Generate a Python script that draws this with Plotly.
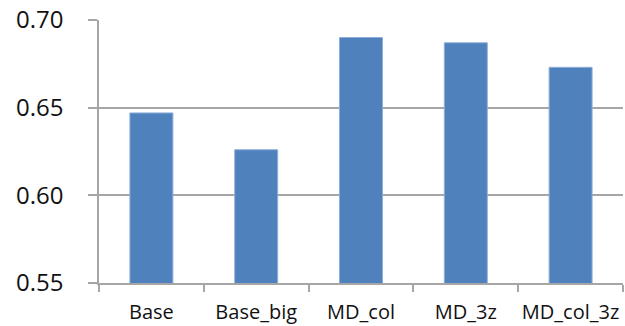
import plotly.graph_objects as go

# Model variants and their scores
models = ["Base", "Base_big", "MD_col", "MD_3z", "MD_col_3z"]
scores = [0.647, 0.626, 0.690, 0.687, 0.673]
y_ticks = [0.55, 0.60, 0.65, 0.70]
y_tick_text = ["0.55", "0.60", "0.65", "0.70"]

grid = "#A6A6A6"
font_family = "Open Sans, Noto Sans, sans-serif"

fig = go.Figure(
    go.Bar(
        x=models,
        y=scores,
        width=0.41,
        marker=dict(color="#4F81BD", line=dict(color="#8EAEDA", width=1)),
    )
)

fig.update_layout(
    width=625,
    height=326,
    margin=dict(l=99, r=2, t=20, b=43),
    paper_bgcolor="white",
    plot_bgcolor="white",
    showlegend=False,
    font=dict(family=font_family, color="#111111"),
)

fig.update_xaxes(
    type="category",
    showline=True,
    linecolor=grid,
    linewidth=1.5,
    ticks="outside",
    tickson="boundaries",
    ticklen=7,
    tickcolor=grid,
    tickwidth=1.5,
    tickfont=dict(size=20),
    tickangle=0,
    automargin=False,
    ticklabelstandoff=10,
    showgrid=False,
)

fig.update_yaxes(
    range=[0.55, 0.70],
    tickvals=y_ticks,
    ticktext=y_tick_text,
    showline=True,
    linecolor=grid,
    linewidth=1.5,
    ticks="outside",
    ticklen=9,
    tickcolor=grid,
    tickwidth=1.5,
    tickfont=dict(size=24),
    ticklabelstandoff=20,
    automargin=False,
    showgrid=True,
    gridcolor=grid,
    gridwidth=1.5,
    zeroline=False,
)

fig.write_html("out.html")
